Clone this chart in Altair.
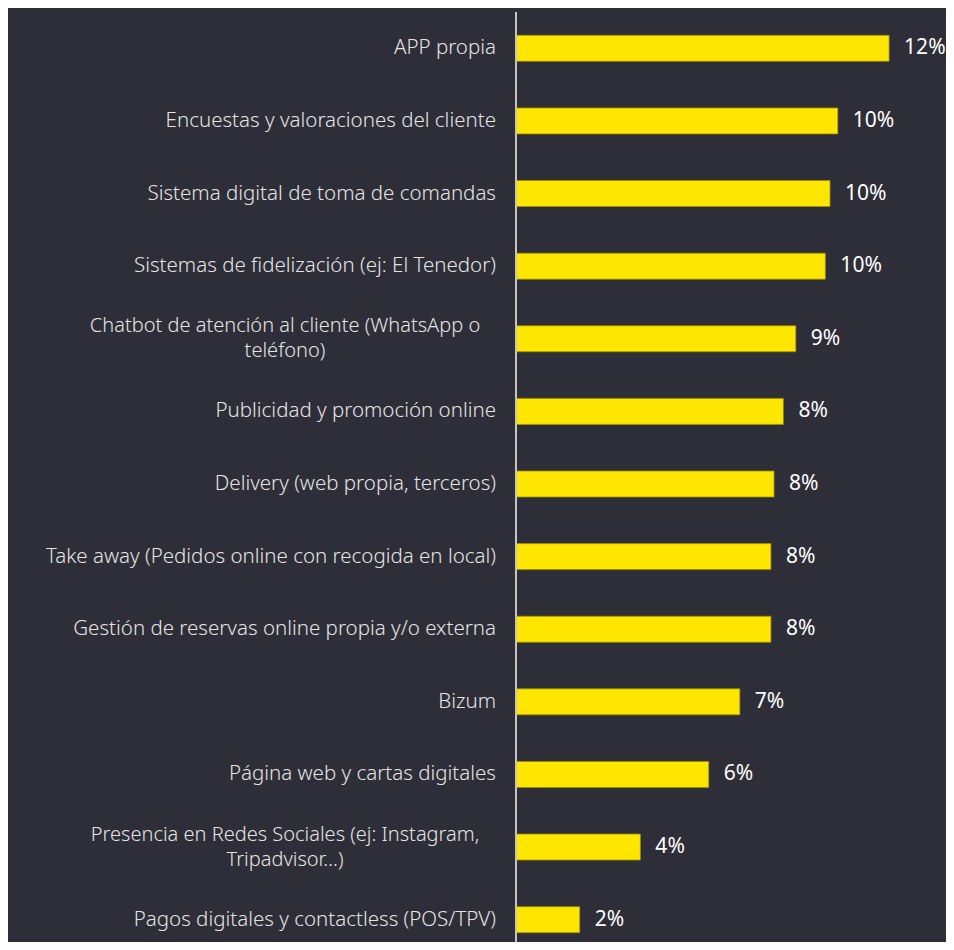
import altair as alt
import pandas as pd

categories = [
    "APP propia",
    "Encuestas y valoraciones del cliente",
    "Sistema digital de toma de comandas",
    "Sistemas de fidelización (ej: El Tenedor)",
    "Chatbot de atención al cliente (WhatsApp o\nteléfono)",
    "Publicidad y promoción online",
    "Delivery (web propia, terceros)",
    "Take away (Pedidos online con recogida en local)",
    "Gestión de reservas online propia y/o externa",
    "Bizum",
    "Página web y cartas digitales",
    "Presencia en Redes Sociales (ej: Instagram,\nTripadvisor…)",
    "Pagos digitales y contactless (POS/TPV)",
]
values = [12.0, 10.35, 10.1, 9.95, 9.0, 8.6, 8.3, 8.2, 8.2, 7.2, 6.2, 4.0, 2.05]
value_labels = ["12%", "10%", "10%", "10%", "9%", "8%", "8%", "8%", "8%", "7%", "6%", "4%", "2%"]

df = pd.DataFrame({"cat": categories, "val": values, "lab": value_labels})
df["multi"] = df["cat"].str.contains("\n")

BG = "#2e2e38"
YELLOW = "#ffe600"
FONT = "Noto Sans"

y = alt.Y("cat:N", sort=None, axis=None,
          scale=alt.Scale(paddingInner=0.0, paddingOuter=0.0, range=[0, 944]))
xscale = alt.Scale(domain=[0, 13.83], nice=False, zero=True)

bars = alt.Chart(df).mark_bar(size=26, color=YELLOW, stroke="#9c8e00", strokeWidth=0.8).encode(
    x=alt.X("val:Q", scale=xscale, axis=None),
    y=y,
)

vals = alt.Chart(df).mark_text(align="left", baseline="middle", dx=15, font=FONT,
                               fontSize=21, color="#ffffff").encode(
    x=alt.X("val:Q", scale=xscale),
    y=y,
    text="lab:N",
)

single = alt.Chart(df).transform_filter("!datum.multi").mark_text(
    align="right", baseline="middle", font=FONT, fontSize=20.5, fontWeight=300,
    color="#e4e4e4"
).encode(x=alt.value(-20), y=y, text="cat:N")

multi = alt.Chart(df).transform_filter("datum.multi").mark_text(
    align="center", baseline="middle", font=FONT, fontSize=20, fontWeight=300,
    color="#e4e4e4", lineBreak="\n", lineHeight=25, dy=-12.5
).encode(x=alt.value(-231), y=y, text="cat:N")

axis_line = alt.Chart(df).mark_rule(color="#c4c4c4", strokeWidth=2).encode(
    x=alt.value(0), y=alt.value(0), y2=alt.value(940)
)

chart = alt.layer(bars, axis_line, vals, single, multi).properties(
    width=430, height=930,
    background=BG,
    padding={"left": 508, "top": 4, "right": 0, "bottom": 0},
    autosize=alt.AutoSizeParams(type="none"),
).configure_view(stroke=None)

chart.save("out.html", embed_options={"renderer": "svg", "actions": False})
